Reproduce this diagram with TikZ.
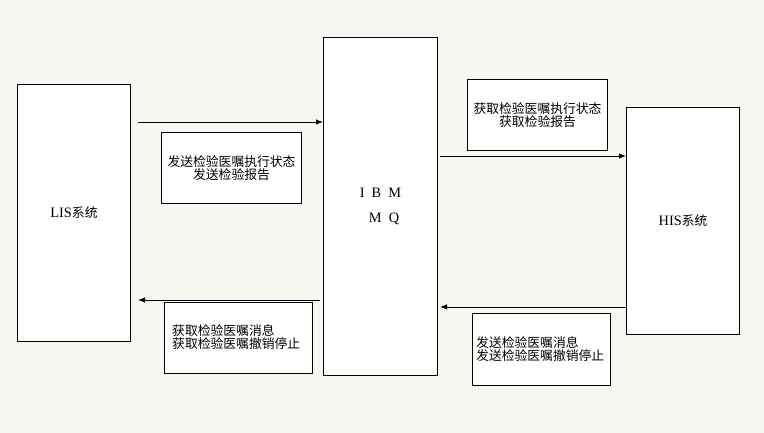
\documentclass[tikz,border=0pt]{standalone}
\usepackage{fontspec}
\setmainfont{Noto Sans CJK SC}
\newfontfamily\latf[Scale=1.12]{Liberation Serif}
\usetikzlibrary{arrows.meta}
\definecolor{bg}{HTML}{F8F6F0}
\begin{document}
\begin{tikzpicture}[x=1pt,y=-1pt,
  box/.style={draw=black,fill=white,line width=1pt,rectangle,inner sep=0pt,anchor=north west,
    font=\fontsize{12.8}{13}\selectfont,align=center},
  lbl/.style={font=\fontsize{12.8}{13.5}\selectfont,inner sep=0pt},
  arr/.style={line width=0.9pt,-{Latex[length=7pt,width=5.5pt]}}]
\fill[bg] (0,0) rectangle (764,433);
\useasboundingbox (0,0) rectangle (764,433);
% main boxes
\node[box,minimum width=113pt,minimum height=257pt] (lis) at (17,84) {{\latf LIS}系统};
\node[box,minimum width=114pt,minimum height=338pt] (mq) at (323,37) {{\latf I\ \ B\ \ M}\\[12pt]{\latf \ \ M\ \ Q}};
\node[box,minimum width=113pt,minimum height=227pt] (his) at (626,107) {{\latf HIS}系统};
% label boxes
\node[box,minimum width=140pt,minimum height=71pt] (b1) at (161,132) {发送检验医嘱执行状态\\发送检验报告};
\node[box,minimum width=140pt,minimum height=71pt] (b2) at (467,79) {获取检验医嘱执行状态\\获取检验报告};
\node[box,minimum width=148pt,minimum height=71pt] (b3) at (164,302) {};
\node[lbl,align=left,anchor=west] (t3) at (172,337) {获取检验医嘱消息\\获取检验医嘱撤销停止};
\node[box,minimum width=138pt,minimum height=72pt] (b4) at (472,313) {};
\node[lbl,align=left,anchor=west] (t4) at (476,349) {发送检验医嘱消息\\发送检验医嘱撤销停止};
% arrows
\coordinate (a1) at (138,122);
\draw[arr] (a1) -- (a1 -| mq.west);
\coordinate (a2) at (440,156);
\draw[arr] (a2) -- (a2 -| his.west);
\coordinate (a3s) at (320,300);
\coordinate (a3e) at (138,300);
\draw[arr] (a3s) -- (a3e);
\coordinate (a4) at (440,307);
\draw[arr] (his.west |- a4) -- (a4);
\end{tikzpicture}
\end{document}
